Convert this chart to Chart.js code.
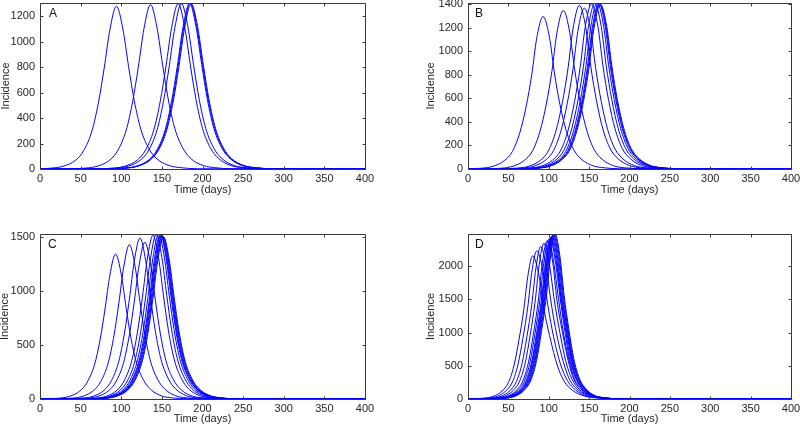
<!DOCTYPE html>
<html><head><meta charset="utf-8">
<script src="https://cdn.jsdelivr.net/npm/chart.js@4.4.1/dist/chart.umd.min.js"></script>
<style>
html,body{margin:0;padding:0;background:#fff;}
#wrap{position:relative;width:800px;height:425px;overflow:hidden;background:#fff;}
canvas{position:absolute;}
</style></head><body>
<div id="wrap">
<canvas id="cA" width="400" height="212" style="left:0;top:0"></canvas>
<canvas id="cB" width="400" height="212" style="left:400px;top:0"></canvas>
<canvas id="cC" width="400" height="213" style="left:0;top:212px"></canvas>
<canvas id="cD" width="400" height="213" style="left:400px;top:212px"></canvas>
</div>
<script>
// ---------- data ----------
const xTicks = [0, 50, 100, 150, 200, 250, 300, 350, 400];
const aYTicks = [0, 200, 400, 600, 800, 1000, 1200];
const bYTicks = [0, 200, 400, 600, 800, 1000, 1200, 1400];
const cYTicks = [0, 500, 1000, 1500];
const dYTicks = [0, 500, 1000, 1500, 2000];
const yMax = {A: 1305, B: 1408, C: 1530, D: 2485};

const aDays = [
 [0,14,29,44,54,64,72,79,86,94,102,109,116,124,134,144,159,174,194,400],
 [0,36,56,71,86,96,106,114,121,128,136,144,151,158,166,176,186,201,216,236,400],
 [0,70,90,105,120,130,140,148,155,162,170,178,185,192,200,210,220,235,250,270,400],
 [0,74,94,109,124,134,144,152,159,166,174,182,189,196,204,214,224,239,254,274,400],
 [0,84,104,119,134,144,154,162,169,176,184,192,199,206,214,224,234,249,264,284,400],
 [0,85,105,120,135,145,155,163,170,177,185,193,200,207,215,225,235,250,265,285,400],
 [0,86,106,121,136,146,156,164,171,178,186,194,201,208,216,226,236,251,266,286,400]
];
const aValues = [
 [2,7,23,70,147,301,525,794,1094,1280,1101,806,538,314,160,79,27,10,2,0],
 [0,2,7,23,71,149,304,530,801,1105,1292,1111,814,543,317,162,80,27,10,2,0],
 [0,2,7,23,72,150,306,533,806,1112,1300,1118,819,546,319,163,81,27,10,2,0],
 [0,2,7,23,72,150,306,533,806,1112,1300,1118,819,546,319,163,81,27,10,2,0],
 [0,2,7,23,72,150,307,534,808,1114,1303,1120,821,547,319,163,81,27,10,2,0],
 [0,2,7,23,72,150,307,535,809,1116,1305,1122,822,548,320,163,81,27,10,2,0],
 [0,2,7,23,72,150,306,533,806,1112,1300,1118,819,546,319,163,81,27,10,2,0]
];

const bDays = [
 [0,17,31,45,55,64,72,79,85,93,101,107,114,122,131,141,155,169,188,400],
 [0,23,42,56,70,80,89,97,104,110,118,126,132,139,147,156,166,180,194,213,400],
 [0,43,62,76,90,100,109,117,124,130,138,146,152,159,167,176,186,200,214,233,400],
 [0,49,68,82,96,106,115,123,130,136,144,152,158,165,173,182,192,206,220,239,400],
 [0,58,77,91,105,115,124,132,139,145,153,161,167,174,182,191,201,215,229,248,400],
 [0,62,81,95,109,119,128,136,143,149,157,165,171,178,186,195,205,219,233,252,400],
 [0,65,84,98,112,122,131,139,146,152,160,168,174,181,189,198,208,222,236,255,400],
 [0,67,86,100,114,124,133,141,148,154,162,170,176,183,191,200,210,224,238,257,400],
 [0,68,87,101,115,125,134,142,149,155,163,171,177,184,192,201,211,225,239,258,400],
 [0,69,88,102,116,126,135,143,150,156,164,172,178,185,193,202,212,226,240,259,400]
];
const bValues = [
 [2,7,23,71,149,304,530,802,1106,1293,1112,815,543,317,162,80,27,10,2,0],
 [0,2,7,24,74,155,316,551,834,1150,1345,1157,847,565,330,168,83,28,10,3,0],
 [0,2,8,25,76,160,326,569,861,1187,1388,1194,874,583,340,174,86,29,10,3,0],
 [0,2,8,25,75,157,321,560,846,1167,1365,1174,860,573,334,171,85,29,10,3,0],
 [0,2,8,25,77,161,329,574,868,1197,1400,1204,882,588,343,175,87,29,11,3,0],
 [0,2,8,25,77,162,330,576,871,1201,1405,1208,885,590,344,176,87,30,11,3,0],
 [0,2,8,25,77,162,331,577,873,1204,1408,1211,887,591,345,176,87,30,11,3,0],
 [0,2,8,25,77,162,330,576,871,1201,1405,1208,885,590,344,176,87,30,11,3,0],
 [0,2,8,25,77,161,329,575,869,1199,1402,1206,883,589,343,175,87,29,11,3,0],
 [0,2,8,25,77,161,329,573,867,1195,1398,1202,881,587,343,175,87,29,10,3,0]
];

const cDays = [
 [0,5,23,36,49,58,67,74,80,86,93,100,106,112,119,128,137,150,163,181,400],
 [0,22,40,53,66,75,84,91,97,103,110,117,123,129,136,145,154,167,180,198,400],
 [0,35,53,66,79,88,97,104,110,116,123,130,136,142,149,158,167,180,193,211,400],
 [0,41,59,72,85,94,103,110,116,122,129,136,142,148,155,164,173,186,199,217,400],
 [0,51,69,82,95,104,113,120,126,132,139,146,152,158,165,174,183,196,209,227,400],
 [0,55,73,86,99,108,117,124,130,136,143,150,156,162,169,178,187,200,213,231,400],
 [0,58,76,89,102,111,120,127,133,139,146,153,159,165,172,181,190,203,216,234,400],
 [0,60,78,91,104,113,122,129,135,141,148,155,161,167,174,183,192,205,218,236,400],
 [0,61,79,92,105,114,123,130,136,142,149,156,162,168,175,184,193,206,219,237,400],
 [0,62,80,93,106,115,124,131,137,143,150,157,163,169,176,185,194,207,220,238,400],
 [0,63,81,94,107,116,125,132,138,144,151,158,164,170,177,186,195,208,221,239,400],
 [0,64,82,95,108,117,126,133,139,145,152,159,165,171,178,187,196,209,222,240,400]
];
const cValues = [
 [0,2,7,24,74,155,316,551,833,1149,1344,1156,847,564,329,168,83,28,10,3,0],
 [0,2,8,26,79,165,336,587,887,1224,1431,1231,902,601,351,179,89,30,11,3,0],
 [0,2,8,27,82,172,351,612,926,1277,1493,1284,941,627,366,187,93,31,11,3,0],
 [0,2,8,26,80,167,341,596,901,1242,1453,1250,915,610,356,182,90,31,11,3,0],
 [0,2,8,27,83,175,357,622,941,1298,1518,1305,956,638,372,190,94,32,11,3,0],
 [0,2,8,27,84,175,358,625,946,1304,1525,1312,961,641,374,191,95,32,11,3,0],
 [0,2,8,28,84,176,360,627,949,1308,1530,1316,964,643,375,191,95,32,11,3,0],
 [0,2,8,28,84,176,359,626,947,1306,1528,1314,963,642,374,191,95,32,11,3,0],
 [0,2,8,27,84,175,358,624,944,1301,1522,1309,959,639,373,190,94,32,11,3,0],
 [0,2,8,27,83,174,356,622,940,1296,1516,1304,955,637,371,190,94,32,11,3,0],
 [0,2,8,27,83,174,355,619,936,1291,1510,1299,951,634,370,189,94,32,11,3,0],
 [0,2,8,27,83,173,354,617,933,1287,1505,1294,948,632,369,188,93,32,11,3,0]
];

const dDays = [
 [0,4,19,31,42,50,57,63,69,74,80,88,94,102,110,119,129,144,159,179,400],
 [0,9,24,36,47,55,62,68,74,79,85,93,99,106,114,123,133,147,162,181,400],
 [0,14,29,41,52,60,67,73,79,84,90,97,103,110,118,126,136,149,163,181,400],
 [0,18,33,45,56,64,71,77,83,88,94,101,107,114,121,129,138,151,165,182,400],
 [0,22,37,49,60,68,75,81,87,92,98,105,110,117,124,131,140,152,166,182,400],
 [0,24,39,51,62,70,77,83,89,94,100,106,112,118,125,132,141,153,166,182,400],
 [0,26,41,53,64,72,79,85,91,96,102,108,114,120,126,134,142,154,167,183,400],
 [0,27,42,54,65,73,80,86,92,97,103,109,115,121,127,134,143,154,167,183,400],
 [0,28,43,55,66,74,81,87,93,98,104,110,115,122,128,135,144,155,167,183,400],
 [0,29,44,56,67,75,82,88,94,99,105,111,116,123,129,136,144,155,168,183,400],
 [0,30,45,57,68,76,83,89,95,100,106,112,117,123,129,137,145,156,168,184,400],
 [0,31,46,58,69,77,84,90,96,101,107,113,118,124,130,137,145,156,168,183,400],
 [0,32,47,59,70,78,85,91,97,102,108,114,119,125,131,138,146,157,169,184,400]
];
const dValues = [
 [0,3,12,39,119,248,506,884,1336,1843,2155,1853,1358,905,528,269,134,45,16,4,0],
 [0,3,12,40,123,256,524,914,1383,1907,2230,1918,1405,937,546,279,138,47,17,4,0],
 [0,3,13,41,126,264,539,941,1423,1962,2295,1974,1446,964,562,287,142,48,17,4,0],
 [0,3,13,42,129,270,551,961,1454,2005,2345,2017,1477,985,575,293,145,49,18,4,0],
 [0,3,13,43,131,274,560,978,1479,2039,2385,2051,1503,1002,584,298,148,50,18,5,0],
 [0,3,13,43,132,277,565,986,1491,2056,2405,2068,1515,1010,589,301,149,51,18,5,0],
 [0,3,13,44,133,279,570,994,1504,2073,2425,2086,1528,1019,594,303,150,51,18,5,0],
 [0,3,13,44,134,281,573,1000,1513,2086,2440,2098,1537,1025,598,305,151,51,18,5,0],
 [0,3,14,44,135,282,577,1007,1522,2099,2455,2111,1547,1031,601,307,152,52,18,5,0],
 [0,3,14,44,136,283,579,1011,1528,2108,2465,2120,1553,1035,604,308,153,52,18,5,0],
 [0,3,14,45,136,285,582,1015,1535,2116,2475,2129,1559,1040,606,309,153,52,19,5,0],
 [0,3,14,45,137,286,584,1019,1541,2125,2485,2137,1566,1044,609,311,154,52,19,5,0],
 [0,3,14,45,136,285,583,1017,1538,2120,2480,2133,1562,1042,608,310,154,52,19,5,0]
];

// ---------- drawing ----------
const FONT = "'Liberation Sans', Arial, Helvetica, sans-serif";
const TEXT = '#262626';
Chart.defaults.font.family = FONT;
Chart.defaults.font.size = 11;
Chart.defaults.color = TEXT;

const boxTicks = {
  id: 'boxTicks',
  afterDraw(chart, args, opts) {
    const {ctx, chartArea: ca} = chart;
    const xs = chart.scales.x, ys = chart.scales.y;
    const L = Math.round(ca.left) + 0.5, R = Math.round(ca.right) + 0.5;
    const T = Math.round(ca.top) + 0.5, B = Math.round(ca.bottom) + 0.5;
    ctx.save();
    ctx.strokeStyle = '#3a3a3a';
    ctx.lineWidth = 1;
    ctx.beginPath();
    ctx.rect(L, T, R - L, B - T);
    xs.ticks.forEach(t => {
      const px = Math.round(xs.getPixelForValue(t.value)) + 0.5;
      ctx.moveTo(px, B); ctx.lineTo(px, B - 3);
      ctx.moveTo(px, T); ctx.lineTo(px, T + 3);
    });
    ys.ticks.forEach(t => {
      const py = Math.round(ys.getPixelForValue(t.value)) + 0.5;
      ctx.moveTo(L, py); ctx.lineTo(L + 3, py);
      ctx.moveTo(R, py); ctx.lineTo(R - 3, py);
    });
    ctx.stroke();
    ctx.fillStyle = '#111';
    ctx.font = '12px ' + FONT;
    ctx.textBaseline = 'middle';
    ctx.textAlign = 'left';
    ctx.fillText(opts.letter, ca.left + opts.dx, ca.top + opts.dy);
    ctx.restore();
  }
};

function makeDatasets(daysList, valuesList) {
  return daysList.map((days, i) => ({
    data: days.map((d, j) => ({x: d, y: valuesList[i][j]})),
    borderColor: 'rgb(0,0,255)',
    borderWidth: 1,
    pointRadius: 0,
    fill: false,
    cubicInterpolationMode: 'monotone'
  }));
}

function makeChart(p) {
  new Chart(document.getElementById(p.id), {
    type: 'line',
    data: {datasets: makeDatasets(p.days, p.values)},
    options: {
      responsive: false, animation: false, devicePixelRatio: 1,
      layout: {padding: {top: p.padTop, right: p.padRight, left: 0, bottom: 0}},
      plugins: {legend: {display: false}, tooltip: {enabled: false},
        boxTicks: {letter: p.letter, dx: p.dx, dy: 11}},
      scales: {
        x: {
          type: 'linear', min: 0, max: 400,
          afterBuildTicks: s => { s.ticks = xTicks.map(v => ({value: v})); },
          afterFit: s => { s.height = p.xHeight; s.paddingLeft = 0; s.paddingRight = 0; },
          grid: {display: false, drawTicks: false}, border: {display: false},
          ticks: {padding: 3, maxRotation: 0, minRotation: 0, autoSkip: false, color: TEXT,
                  font: {size: 11}, callback: v => String(v)},
          title: {display: true, text: 'Time (days)', color: TEXT,
                  font: {size: 11, lineHeight: 1}, padding: {top: 0, bottom: p.xTitlePad}}
        },
        y: {
          type: 'linear', min: 0, max: p.yMax,
          afterBuildTicks: s => { s.ticks = p.yTicks.map(v => ({value: v})); },
          afterFit: s => { s.width = p.yWidth; s.paddingTop = 0; s.paddingBottom = 0; },
          grid: {display: false, drawTicks: false}, border: {display: false},
          ticks: {padding: 5, autoSkip: false, color: TEXT, font: {size: 11}, callback: v => String(v)},
          title: {display: true, text: 'Incidence', color: TEXT,
                  font: {size: 11, lineHeight: 1}, padding: {top: p.yTitlePad, bottom: 0}}
        }
      }
    },
    plugins: [boxTicks]
  });
}

makeChart({id: 'cA', letter: 'A', days: aDays, values: aValues, yTicks: aYTicks, yMax: yMax.A,
  yWidth: 40, xHeight: 43, padTop: 3, padRight: 35, yTitlePad: 0.5, xTitlePad: 16.5, dx: 9});
makeChart({id: 'cB', letter: 'B', days: bDays, values: bValues, yTicks: bYTicks, yMax: yMax.B,
  yWidth: 68, xHeight: 43, padTop: 3, padRight: 9, yTitlePad: 25, xTitlePad: 16.5, dx: 7});
makeChart({id: 'cC', letter: 'C', days: cDays, values: cValues, yTicks: cYTicks, yMax: yMax.C,
  yWidth: 40, xHeight: 26, padTop: 22, padRight: 35, yTitlePad: -1, xTitlePad: 0.8, dx: 8});
makeChart({id: 'cD', letter: 'D', days: dDays, values: dValues, yTicks: dYTicks, yMax: yMax.D,
  yWidth: 68, xHeight: 26, padTop: 22, padRight: 9, yTitlePad: 25, xTitlePad: 0.8, dx: 7});
</script>
</body></html>
